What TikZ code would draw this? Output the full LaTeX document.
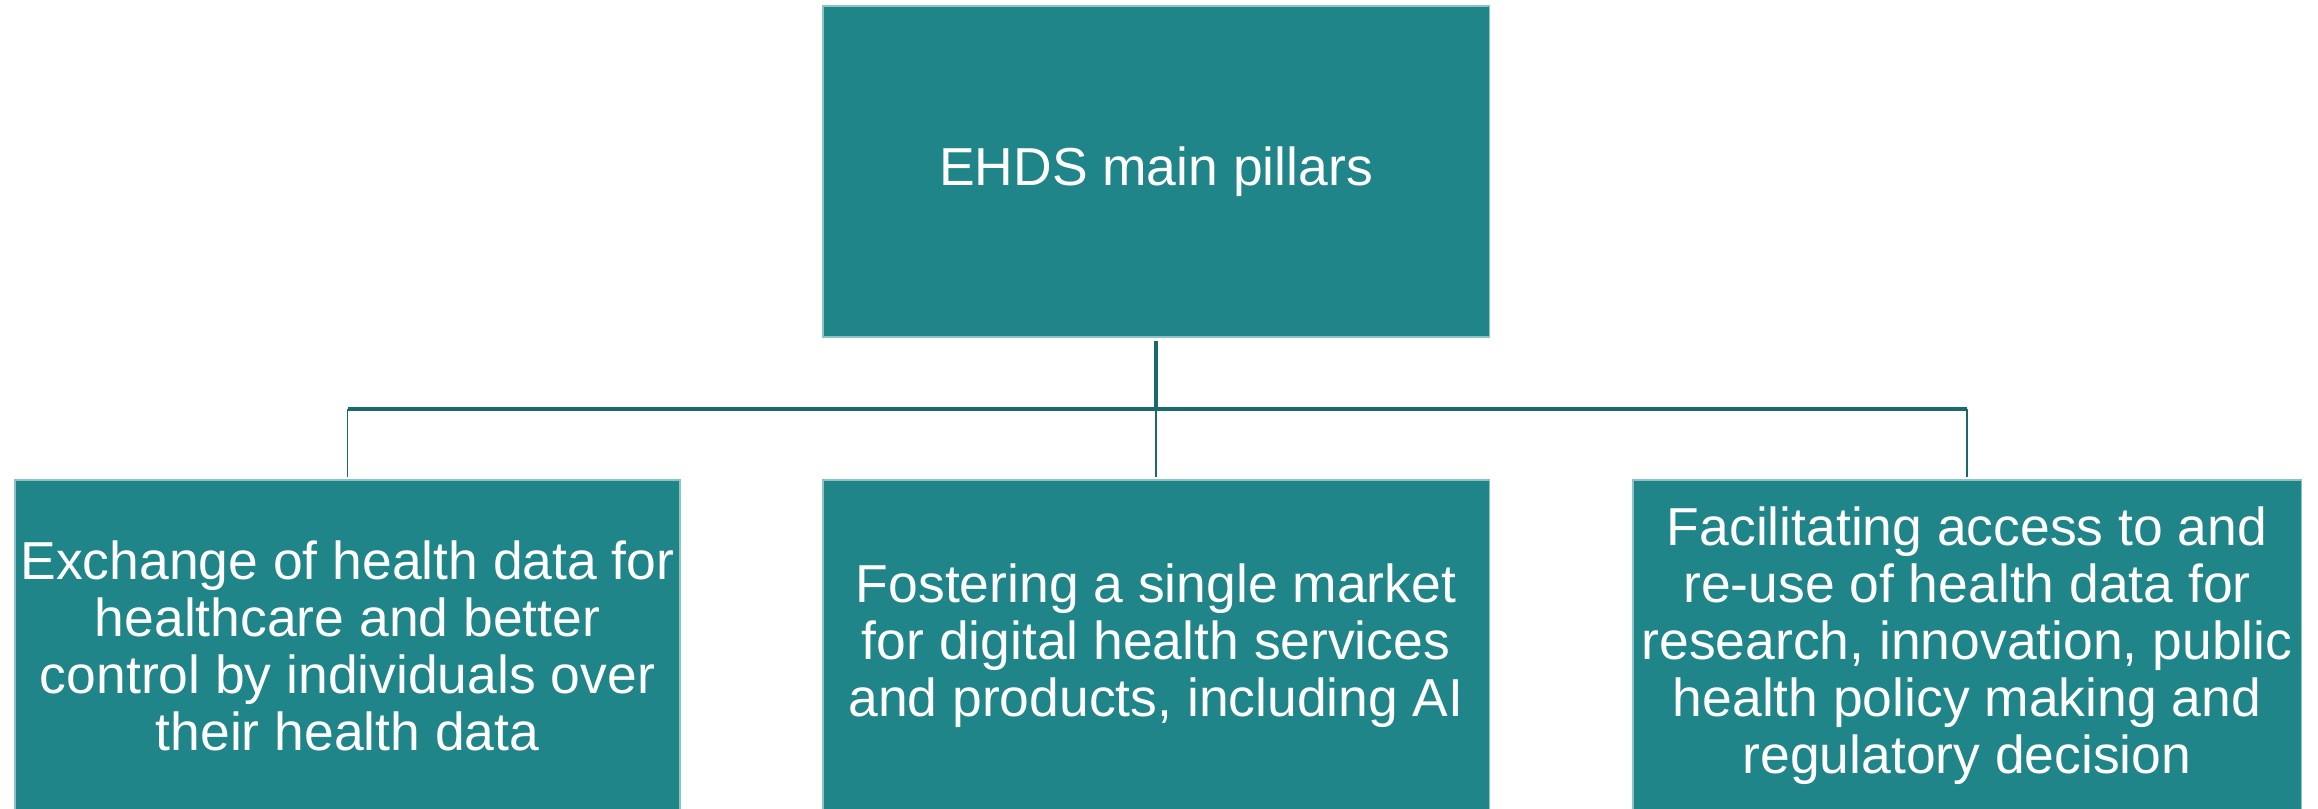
\documentclass[tikz,border=0pt]{standalone}
\usepackage{fontspec}
\setmainfont{Liberation Sans}
\usetikzlibrary{positioning,calc}
\definecolor{pillarteal}{HTML}{1F8589}
\definecolor{pillaredge}{HTML}{8CC3C5}
\definecolor{linkteal}{HTML}{1A6A6D}
\tikzstyle{pillar} = [rectangle,fill=pillarteal,draw=pillaredge,line width=0.4pt,text=white,align=center,font=\fontsize{15.2}{16.2}\selectfont,inner sep=0pt]
\tikzstyle{link} = [linkteal,line width=0.5pt]

\begin{document}
\begin{tikzpicture}[x=0.01cm,y=-0.01cm]
 \useasboundingbox (0,0) rectangle (2318,808);

 \node [pillar,minimum width=6.66cm,minimum height=3.31cm] (main) at (1156,171.5) {EHDS main pillars};

 \node [pillar,minimum width=6.65cm,minimum height=3.32cm] (exchange) at (347.5,646) {Exchange of health data for\\healthcare and better\\control by individuals over\\their health data};
 \node [pillar,minimum width=6.66cm,minimum height=3.32cm] (market) at (1156,646) {Fostering a single market\\for digital health services\\and products, including AI};
 \node [pillar,minimum width=6.68cm,minimum height=3.32cm] (reuse) at (1967,646) {Facilitating access to and\\re-use of health data for\\research, innovation, public\\health policy making and\\regulatory decision};

 \coordinate (bus) at (1156,409);
 \draw [link,line width=1.1pt] ($(main.south)+(0,3)$) -- (bus);
 \draw [link,line width=0.9pt] (exchange.north |- bus) -- (reuse.north |- bus);
 \draw [link] (exchange.north |- bus) -- ($(exchange.north)+(0,-2)$);
 \draw [link] (bus) -- ($(market.north)+(0,-2)$);
 \draw [link] (reuse.north |- bus) -- ($(reuse.north)+(0,-2)$);
\end{tikzpicture}
\end{document}
